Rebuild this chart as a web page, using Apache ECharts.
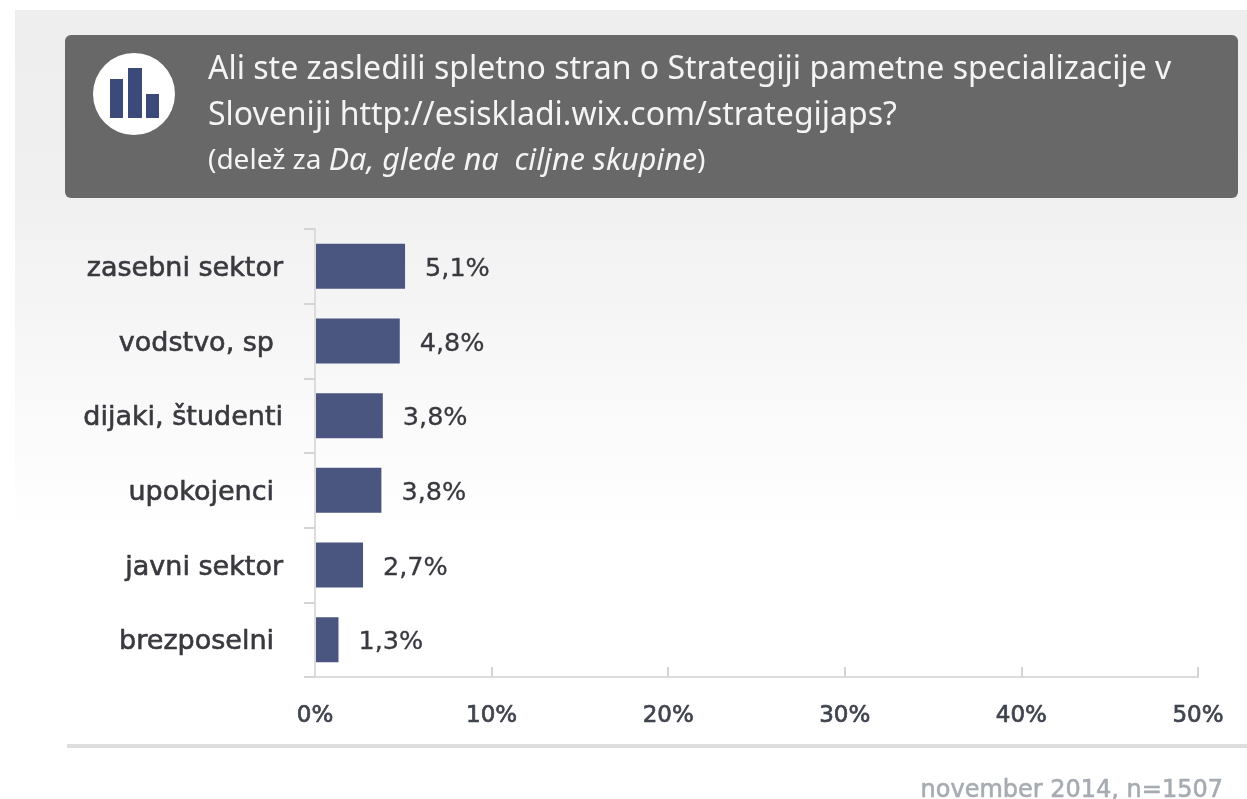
<!DOCTYPE html>
<html>
<head>
<meta charset="utf-8">
<script src="https://cdn.jsdelivr.net/npm/echarts@6/dist/echarts.min.js"></script>
<style>
html,body{margin:0;padding:0;background:#fff;}
#c{width:1247px;height:799px;filter:blur(0.5px);}
</style>
</head>
<body>
<div id="c"></div>
<script>
const categories = ['zasebni sektor','vodstvo, sp','dijaki, študenti','upokojenci','javni sektor','brezposelni'];
const shortLabels = ['vodstvo, sp','upokojenci','brezposelni'];
const values = [5.1,4.8,3.84,3.76,2.72,1.33];
const tickValues = [0,10,20,30,40,50];
const titleLine1 = 'Ali ste zasledili spletno stran o Strategiji pametne specializacije v';
const titleLine2 = 'Sloveniji http://esiskladi.wix.com/strategijaps?';
const footer = 'november 2014, n=1507';

const titleFont = '"Noto Sans", sans-serif';
const labelFont = '"DejaVu Sans", sans-serif';
const heavy = {textBorderColor:'#38383e',textBorderWidth:0.6};
const chart = echarts.init(document.getElementById('c'), null, {renderer:'canvas'});
chart.setOption({
  animation:false,
  backgroundColor:'#fff',
  grid:{left:315,top:229,width:883,height:448,containLabel:false},
  xAxis:{
    type:'value',min:tickValues[0],max:tickValues[tickValues.length-1],interval:10,
    axisLine:{show:true,lineStyle:{color:'#dcdcdc',width:2}},
    axisTick:{show:true,inside:true,length:10,lineStyle:{color:'#d4d4d4',width:2}},
    splitLine:{show:false},
    axisLabel:{margin:28,color:'#40444f',fontSize:23,fontFamily:labelFont,textBorderColor:'#40444f',textBorderWidth:0.7,formatter:v=>v+'%',showMinLabel:true,showMaxLabel:true,hideOverlap:false}
  },
  yAxis:{
    type:'category',inverse:true,data:categories,z:5,
    axisLine:{show:true,lineStyle:{color:'#dcdcdc',width:2}},
    axisTick:{show:true,length:11,lineStyle:{color:'#d4d4d4',width:2}},
    axisLabel:{margin:32,color:'#38383e',fontSize:27,fontFamily:labelFont,
      formatter:v=>shortLabels.includes(v)?'{s|'+v+'}':'{n|'+v+'}',
      rich:{
        n:Object.assign({color:'#38383e',fontSize:27,fontFamily:labelFont,padding:[5,0,0,0]},heavy),
        s:Object.assign({color:'#38383e',fontSize:27,fontFamily:labelFont,padding:[5,9,0,0]},heavy)
      }}
  },
  series:[{
    type:'bar',data:values,barWidth:45,
    itemStyle:{color:'#4b5680'},
    label:Object.assign({show:true,position:'right',distance:20,color:'#38383e',fontSize:25.5,fontFamily:labelFont,offset:[0,3],
      formatter:p=>p.value.toFixed(1).replace('.',',')+'%'},{textBorderColor:'#38383e',textBorderWidth:0.3}),
    z:3
  }],
  graphic:[
    {type:'rect',z:-10,silent:true,shape:{x:15,y:10,width:1232,height:520},
     style:{fill:new echarts.graphic.LinearGradient(0,0,0,1,[{offset:0,color:'#eeeeee'},{offset:0.35,color:'#f0f0f0'},{offset:1,color:'#ffffff'}])}},
    {type:'rect',z:1,silent:true,shape:{x:65,y:35,width:1173,height:163,r:6},style:{fill:'#686868'}},
    {type:'circle',z:2,silent:true,shape:{cx:134,cy:94,r:41},style:{fill:'#ffffff'}},
    {type:'rect',z:3,silent:true,shape:{x:110,y:79,width:13,height:39},style:{fill:'#3b4a78'}},
    {type:'rect',z:3,silent:true,shape:{x:128,y:68,width:14,height:50},style:{fill:'#3b4a78'}},
    {type:'rect',z:3,silent:true,shape:{x:146,y:94,width:13,height:24},style:{fill:'#3b4a78'}},
    {type:'text',z:3,silent:true,x:208,y:70,style:{text:titleLine1,fill:'#f4f4f4',fontSize:32,fontFamily:titleFont,textVerticalAlign:'middle'}},
    {type:'text',z:3,silent:true,x:208,y:116,style:{text:titleLine2,fill:'#f4f4f4',fontSize:32,fontFamily:titleFont,textVerticalAlign:'middle'}},
    {type:'text',z:3,silent:true,x:208,y:161,style:{
      text:'(delež za {i|Da, glede na  ciljne skupine})',
      fill:'#f4f4f4',fontSize:28,fontFamily:titleFont,textVerticalAlign:'middle',
      rich:{i:{fontStyle:'italic',fill:'#f4f4f4',fontSize:30.5,fontFamily:titleFont}}}},
    {type:'rect',z:1,silent:true,shape:{x:67,y:744,width:1180,height:4},style:{fill:'#dedede'}},
    {type:'text',z:3,silent:true,x:1223,y:791,style:{text:footer,fill:'#a6abb2',fontSize:24,fontFamily:labelFont,textAlign:'right',textVerticalAlign:'middle',stroke:'#a6abb2',lineWidth:0.6}}
  ]
});
</script>
</body>
</html>
